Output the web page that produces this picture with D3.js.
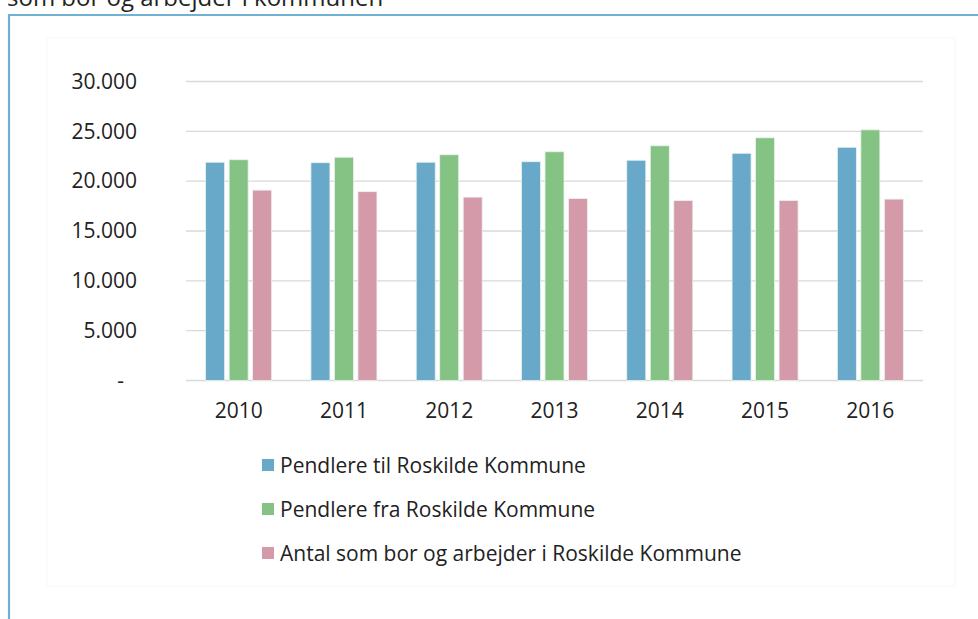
<!DOCTYPE html>
<html><head><meta charset="utf-8">
<script src="https://cdn.jsdelivr.net/npm/d3@7"></script>
<style>body{margin:0;background:#fff;}svg{display:block;font-family:"Open Sans",sans-serif;}</style>
</head><body>
<script>
const years = ["2010","2011","2012","2013","2014","2015","2016"];
const seriesNames = ["Pendlere til Roskilde Kommune","Pendlere fra Roskilde Kommune","Antal som bor og arbejder i Roskilde Kommune"];
const tilValues = [21900, 21850, 21900, 21950, 22100, 22800, 23400];
const fraValues = [22150, 22400, 22650, 22950, 23550, 24350, 25150];
const borValues = [19100, 18950, 18400, 18250, 18050, 18050, 18200];
const yTicks = [0, 5000, 10000, 15000, 20000, 25000, 30000];
const colors = ["#68a8c8", "#85c385", "#d59aa9"];
const allSeries = [tilValues, fraValues, borValues];

const W = 978, H = 619;
const FS = 21;
const svg = d3.select("body").append("svg").attr("width", W).attr("height", H);

// cut-off caption text and box border
svg.append("text").attr("x", 7).attr("y", 6).attr("font-size", 24).attr("fill", "#222")
  .text("som bor og arbejder i kommunen");
svg.append("rect").attr("x", 47).attr("y", 38).attr("width", 908).attr("height", 548)
  .attr("fill", "none").attr("stroke", "#f7f7f7");
svg.append("path").attr("d", `M9,${H} V15 H${W}`).attr("fill", "none")
  .attr("stroke", "#72b0d3").attr("stroke-width", 2.2);

const x0 = d3.scaleBand().domain(years).range([186, 923]).paddingInner(0).paddingOuter(0);
const y = d3.scaleLinear().domain([0, 30000]).range([380.5, 81.5]);

// gridlines
svg.append("g").selectAll("line").data(yTicks).join("line")
  .attr("x1", 186).attr("x2", 923).attr("y1", d => y(d)).attr("y2", d => y(d))
  .attr("stroke", "#d9d9d9").attr("stroke-width", 1.3);

// y axis labels
const fmt = d => d === 0 ? "-" : d3.format(",")(d).replace(/,/g, ".");
const yAxis = d3.axisLeft(y).tickValues(yTicks).tickFormat(fmt).tickSize(0).tickPadding(0);
const yg = svg.append("g").attr("transform", "translate(137,0)").call(yAxis);
yg.select(".domain").remove();
yg.selectAll("text").attr("font-size", FS).attr("fill", "#222").attr("font-family", "Open Sans, sans-serif");
yg.selectAll(".tick").filter(d => d === 0).select("text").attr("dx", -13);

// x axis labels
const xAxis = d3.axisBottom(x0).tickSize(0).tickPadding(0);
const xg = svg.append("g").attr("transform", "translate(0,403)").call(xAxis);
xg.select(".domain").remove();
xg.selectAll("text").attr("font-size", FS).attr("fill", "#222").attr("font-family", "Open Sans, sans-serif");

// bars
const barW = 19, gap = 4.5;
const x1 = d3.scaleBand().domain([0,1,2]).range([0, 3 * barW + 2 * gap]).paddingInner(gap / (barW + gap));
const groupOff = (x0.bandwidth() - (3 * barW + 2 * gap)) / 2;
allSeries.forEach((vals, si) => {
  svg.append("g").selectAll("rect").data(vals).join("rect")
    .attr("x", (d, i) => x0(years[i]) + groupOff + x1(si))
    .attr("width", x1.bandwidth())
    .attr("y", d => y(d))
    .attr("height", d => y(0) - y(d))
    .attr("fill", colors[si])
    .attr("stroke", "#e8f3ec").attr("stroke-width", 0.8);
});

// legend
const lg = svg.append("g");
seriesNames.forEach((name, i) => {
  const cy = 465 + i * 44;
  lg.append("rect").attr("x", 262).attr("y", cy - 6).attr("width", 12).attr("height", 12).attr("fill", colors[i]);
  lg.append("text").attr("x", 280).attr("y", cy + 7.5).attr("font-size", FS).attr("fill", "#222").text(name);
});
</script>
</body></html>
